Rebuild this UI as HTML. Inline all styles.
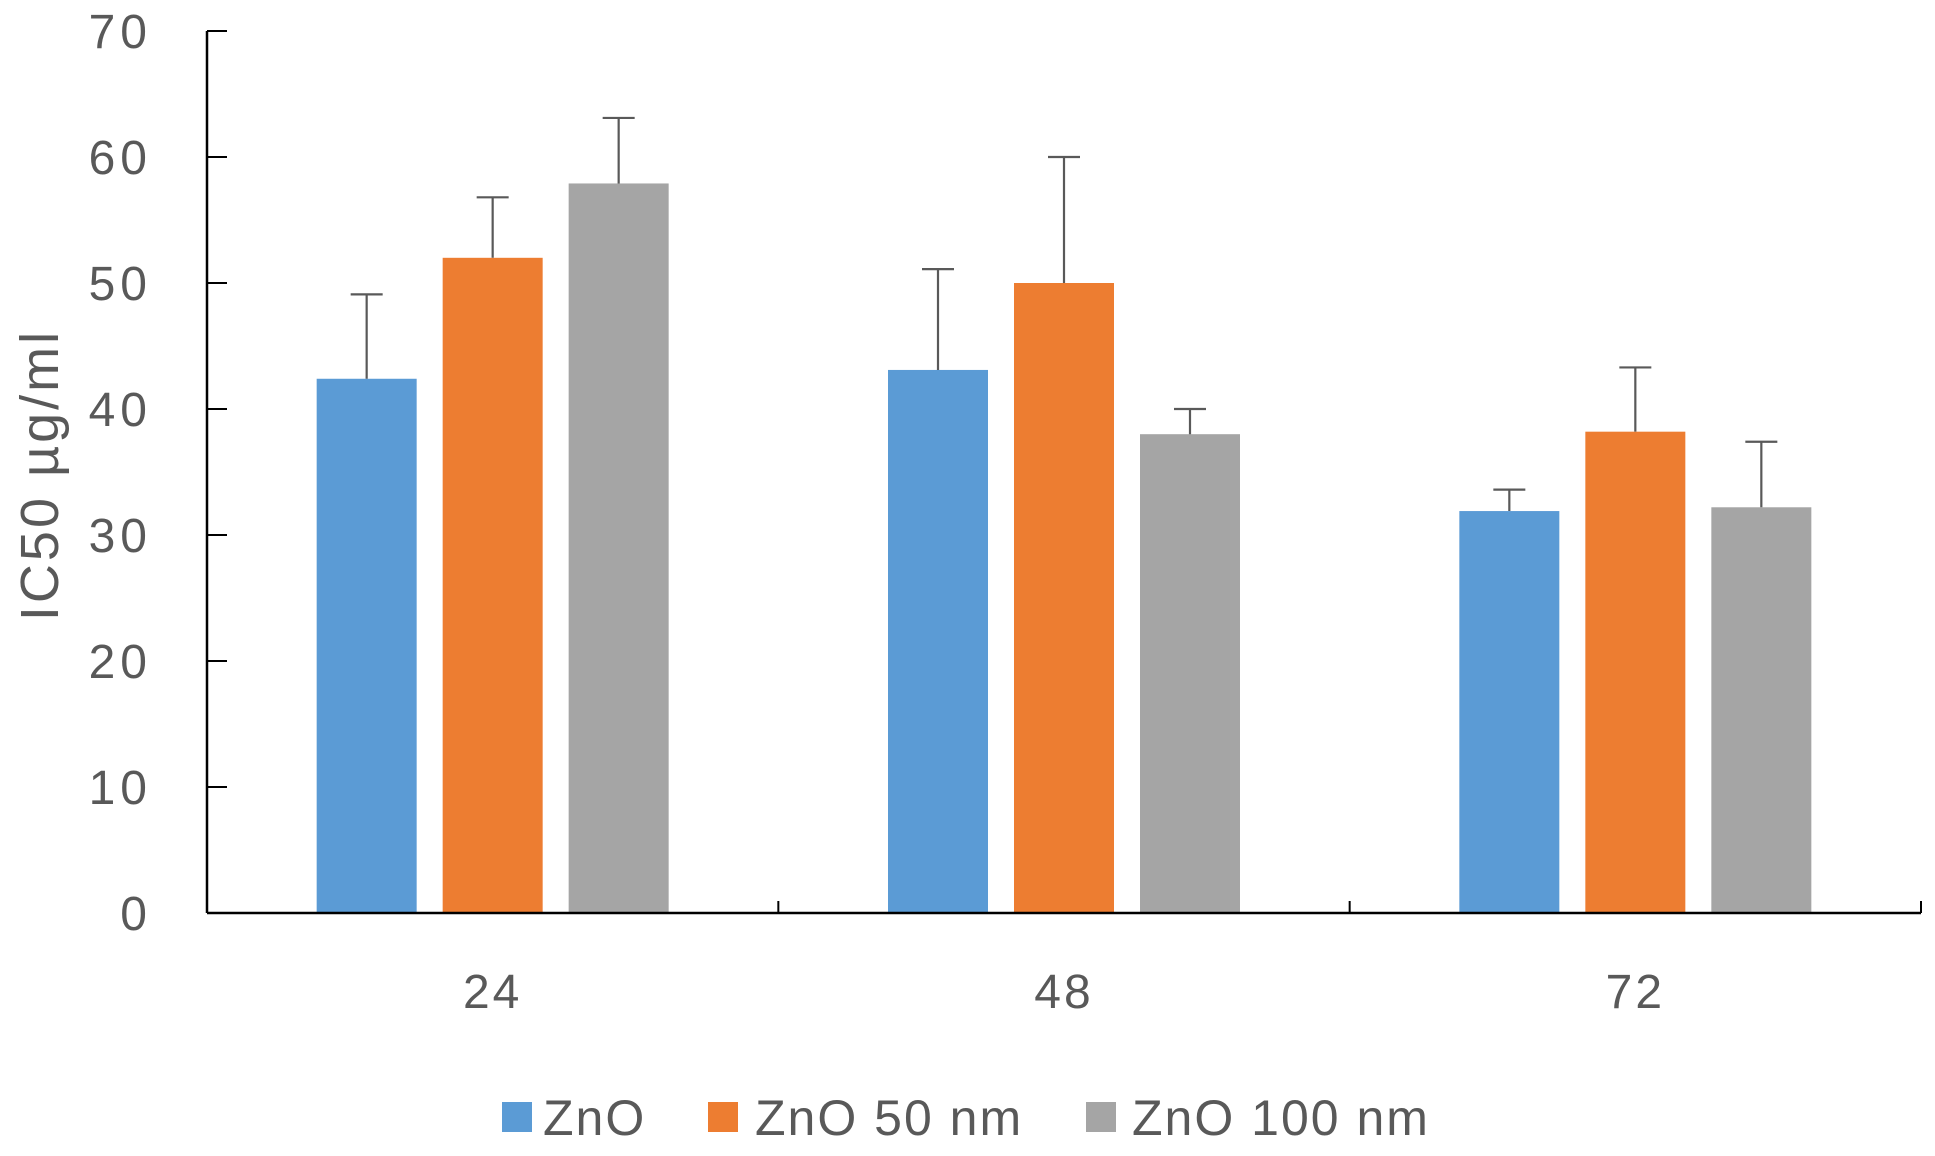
<!DOCTYPE html>
<html><head><meta charset="utf-8"><style>
body{margin:0;background:#fff}
svg text{font-family:"Liberation Sans",sans-serif;fill:#595959}
</style></head><body>
<svg id="chart" width="1935" height="1151" xmlns="http://www.w3.org/2000/svg">
<g id="bars"></g><g id="axes"></g>
<text transform="translate(58,475) rotate(-90)" text-anchor="middle" font-size="54" letter-spacing="3">IC50 µg/ml</text>
<g font-size="50" letter-spacing="2">
<rect x="502" y="1102" width="30" height="30" fill="#5b9bd5"/>
<text x="543" y="1135">ZnO</text>
<rect x="708" y="1102" width="30" height="30" fill="#ed7d31"/>
<text x="755" y="1135">ZnO 50 nm</text>
<rect x="1086" y="1102" width="30" height="30" fill="#a5a5a5"/>
<text x="1132" y="1135">ZnO 100 nm</text>
</g>
</svg>
<script>
const categories=["24","48","72"];
const seriesNames=["ZnO","ZnO 50 nm","ZnO 100 nm"];
const znoValues=[42.4,43.1,31.9];
const zno50Values=[52.0,50.0,38.2];
const zno100Values=[57.9,38.0,32.2];
const znoErr=[6.7,8.0,1.7];
const zno50Err=[4.8,10.0,5.1];
const zno100Err=[5.2,2.0,5.2];
const yTicks=[0,10,20,30,40,50,60,70];

const NS="http://www.w3.org/2000/svg";
const x0=207,x1=1921,yTop=31,yBot=913,yMax=70;
const colors=["#5b9bd5","#ed7d31","#a5a5a5"];
const series=[znoValues,zno50Values,zno100Values];
const errs=[znoErr,zno50Err,zno100Err];
const bandW=(x1-x0)/categories.length;
function y(v){return yBot-(v/yMax)*(yBot-yTop);}
function mk(tag,attrs,parent){const e=document.createElementNS(NS,tag);for(const k in attrs)e.setAttribute(k,attrs[k]);parent.appendChild(e);return e;}
const bars=document.getElementById('bars'),axes=document.getElementById('axes');
const bw=100,gap=26;
categories.forEach((c,i)=>{
  const cx=x0+bandW*(i+0.5);
  series.forEach((s,j)=>{
    const bx=cx+(j-1)*(bw+gap)-bw/2;
    const r=mk('rect',{x:bx,y:y(s[i]),width:bw,height:yBot-y(s[i]),fill:colors[j]},bars);
    
    
    const ex=bx+bw/2,et=y(s[i]+errs[j][i]);
    const l=mk('path',{d:`M${ex},${y(s[i])}V${et}M${ex-16},${et}H${ex+16}`,stroke:'#595959','stroke-width':2.2,fill:'none'},bars);
    
    
  });
  const t=mk('text',{x:cx,y:1008,'text-anchor':'middle','font-size':48,'letter-spacing':3},axes);
  t.textContent=c;
  
  
  const tk=mk('line',{x1:x0+bandW*(i+1),x2:x0+bandW*(i+1),y1:yBot,y2:yBot-12,stroke:'#000','stroke-width':2},axes);
  
  
});
yTicks.forEach(v=>{
  const tk=mk('line',{x1:x0,x2:x0+20,y1:y(v),y2:y(v),stroke:'#000','stroke-width':2},axes);
  
  
  const t=mk('text',{x:152,y:y(v)+17,'text-anchor':'end','font-size':48,'letter-spacing':5},axes);
  t.textContent=v;
  
  
});
const ya=mk('line',{x1:x0,x2:x0,y1:yTop,y2:yBot,stroke:'#000','stroke-width':2.5},axes);


const xa=mk('line',{x1:x0,x2:x1,y1:yBot,y2:yBot,stroke:'#000','stroke-width':2.5},axes);


</script>
</body></html>
